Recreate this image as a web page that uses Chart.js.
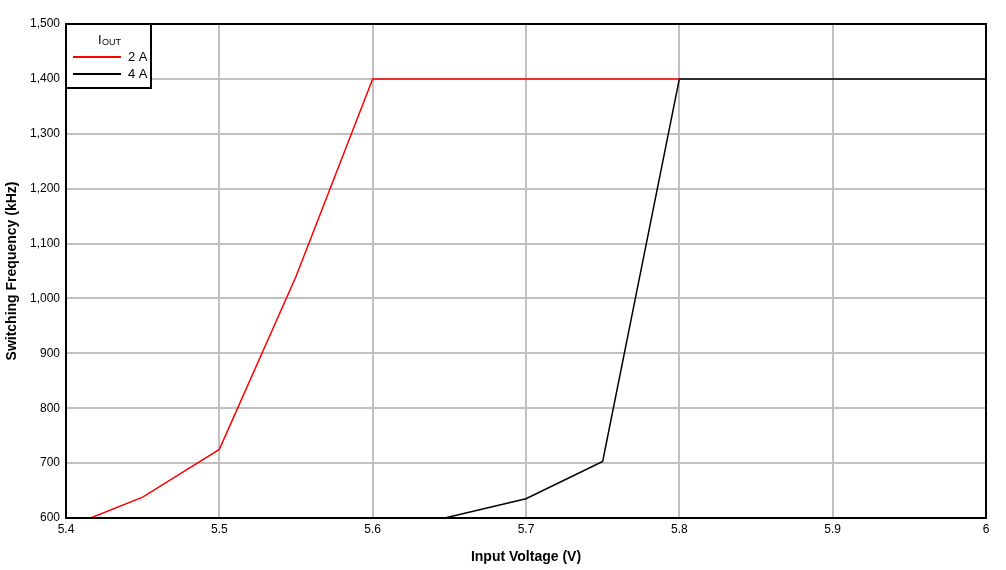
<!DOCTYPE html>
<html><head><meta charset="utf-8">
<script src="https://cdn.jsdelivr.net/npm/chart.js@4"></script>
<style>html,body{margin:0;padding:0;background:#fff}#w{width:1006px;height:570px}</style>
</head><body><div id="w"><canvas id="c"></canvas></div>
<script>
const xs2A = [5.416, 5.45, 5.5, 5.55, 5.6, 5.8];
const ys2A = [600, 638, 725, 1040, 1400, 1400];
const xs4A = [5.647, 5.7, 5.75, 5.8, 6.0];
const ys4A = [600, 635, 703, 1400, 1400];
const seriesLabels = ['2 A', '4 A'];
const xTicks = [5.4,5.5,5.6,5.7,5.8,5.9,6];

const legendPlugin = {
  id: 'leg',
  afterDraw(chart) {
    const ctx = chart.ctx, a = chart.chartArea;
    const x0 = a.left, y0 = a.top, w = 85, h = 64;
    ctx.save();
    ctx.fillStyle = '#fff'; ctx.fillRect(x0, y0, w, h);
    ctx.strokeStyle = '#000'; ctx.lineWidth = 2; ctx.strokeRect(x0, y0, w, h);
    ctx.fillStyle = '#000'; ctx.font = '13px "Liberation Sans", Arial';
    ctx.textBaseline = 'alphabetic';
    ctx.fillText('I', x0 + 32, y0 + 20);
    ctx.font = '9px "Liberation Sans", Arial';
    ctx.fillText('OUT', x0 + 36, y0 + 21);
    ctx.font = '13px "Liberation Sans", Arial';
    const cols = ['#ff0000', '#000000'];
    seriesLabels.forEach((l, i) => {
      const yy = y0 + 33 + i * 17;
      ctx.strokeStyle = cols[i]; ctx.lineWidth = 2;
      ctx.beginPath(); ctx.moveTo(x0 + 7, yy); ctx.lineTo(x0 + 55, yy); ctx.stroke();
      ctx.textBaseline = 'middle'; ctx.fillText(l, x0 + 62, yy);
    });
    ctx.restore();
  }
};
const borderPlugin = {
  id: 'bord',
  afterDatasetsDraw(chart) {
    const ctx = chart.ctx, a = chart.chartArea;
    ctx.save(); ctx.strokeStyle = '#000'; ctx.lineWidth = 2;
    ctx.strokeRect(a.left, a.top, a.right - a.left, a.bottom - a.top); ctx.restore();
  }
};

new Chart(document.getElementById('c'), {
  type: 'line',
  data: { datasets: [
    { label: seriesLabels[0], data: xs2A.map((x, i) => ({x, y: ys2A[i]})), borderColor: '#ff0000', borderWidth: 1.5, pointRadius: 0, tension: 0 },
    { label: seriesLabels[1], data: xs4A.map((x, i) => ({x, y: ys4A[i]})), borderColor: '#000000', borderWidth: 1.5, pointRadius: 0, tension: 0 }
  ]},
  options: {
    responsive: true, maintainAspectRatio: false, animation: false,
    layout: { padding: { top: 24, right: 20, left: 0, bottom: 0 } },
    plugins: { legend: { display: false }, tooltip: { enabled: false } },
    scales: {
      x: { type: 'linear', min: 5.4, max: 6,
        afterBuildTicks: s => { s.ticks = xTicks.map(v => ({value: v})); },
        afterFit: s => { s.height = 52; },
        ticks: { color: '#000', font: { size: 12, family: '"Liberation Sans", Arial' }, padding: 4, callback: v => String(v) },
        grid: { color: '#c0c0c0', lineWidth: 2, drawTicks: false },
        border: { display: false },
        title: { display: true, text: 'Input Voltage (V)', color: '#000', font: { size: 14, weight: 'bold', family: '"Liberation Sans", Arial' }, padding: { top: 2 } } },
      y: { min: 600, max: 1500,
        afterFit: s => { s.width = 66; },
        ticks: { stepSize: 100, color: '#000', font: { size: 12, family: '"Liberation Sans", Arial' }, padding: 6 },
        grid: { color: '#c0c0c0', lineWidth: 2, drawTicks: false },
        border: { display: false },
        title: { display: true, text: 'Switching Frequency (kHz)', color: '#000', font: { size: 14, weight: 'bold', family: '"Liberation Sans", Arial' }, padding: { bottom: 4 } } }
    }
  },
  plugins: [borderPlugin, legendPlugin]
});
</script></body></html>
